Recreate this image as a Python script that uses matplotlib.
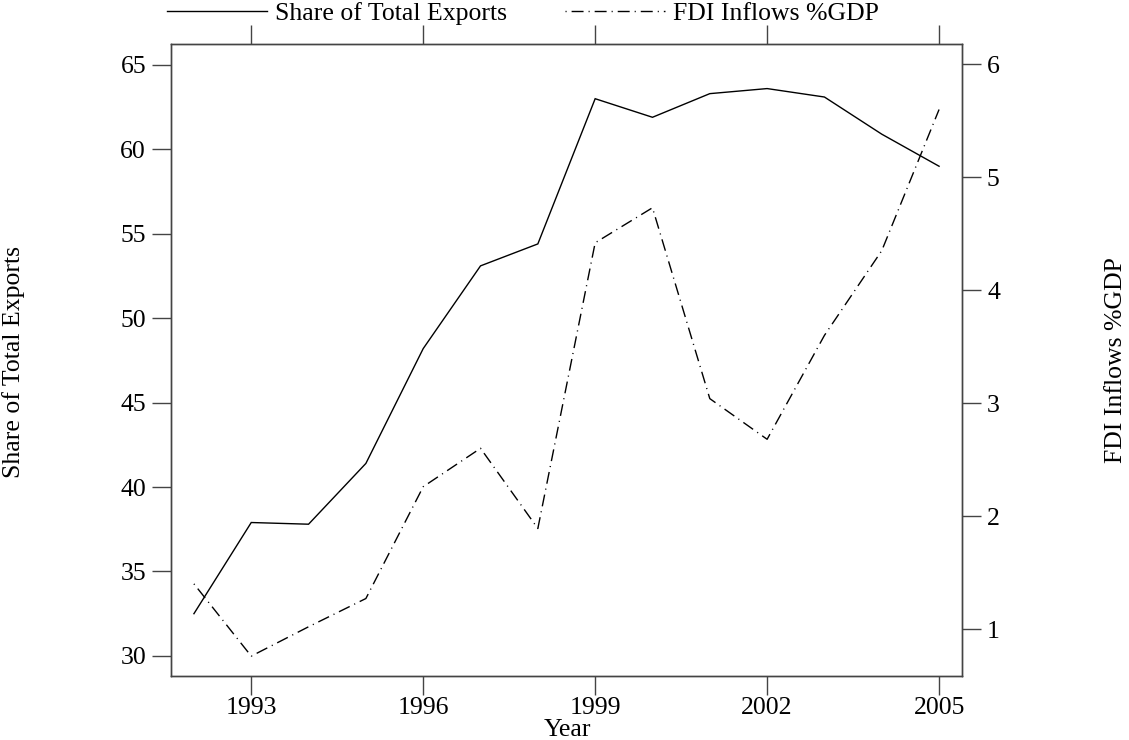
import matplotlib
matplotlib.use("Agg")
import matplotlib.pyplot as plt
from matplotlib.lines import Line2D

# ── Data ──────────────────────────────────────────────────────────────────────
years = [1992, 1993, 1994, 1995, 1996, 1997, 1998,
         1999, 2000, 2001, 2002, 2003, 2004, 2005]
share_exports = [32.5, 37.9, 37.8, 41.4, 48.2, 53.1, 54.4,
                 63.0, 61.9, 63.3, 63.6, 63.1, 60.9, 59.0]
fdi_gdp = [1.40, 0.76, 1.02, 1.27, 2.26, 2.60, 1.89,
           4.42, 4.73, 3.04, 2.68, 3.60, 4.35, 5.60]

x_ticks = [1993, 1996, 1999, 2002, 2005]
left_ticks = [30, 35, 40, 45, 50, 55, 60, 65]
right_ticks = [1, 2, 3, 4, 5, 6]

# ── Style ─────────────────────────────────────────────────────────────────────
plt.rcParams['font.family'] = ['Liberation Serif', 'DejaVu Serif']
FS = 18.5
AX_COL = '#444444'
DOTDASH = (0, (0.8, 3.6, 8.6, 3.6))
TICK = dict(direction='out', length=14, width=1.0, color=AX_COL, labelsize=FS)

fig = plt.figure(figsize=(11.29, 7.40), dpi=100)
ax = fig.add_axes([171 / 1129, 1 - 676 / 740, (962 - 171) / 1129, (676 - 44) / 740])
ax2 = ax.twinx()

ax.plot(years, share_exports, color='black', lw=1.0, solid_joinstyle='miter')
ax2.plot(years, fdi_gdp, color='black', lw=1.0, linestyle=DOTDASH)

ax.set_xlim(1991.6, 2005.4)
ax.set_ylim(28.81, 66.24)
ax2.set_ylim(0.584, 6.18)

ax.set_xticks(x_ticks)
ax.set_xticklabels([str(y) for y in x_ticks])
ax.set_yticks(left_ticks)
ax2.set_yticks(right_ticks)

for a in (ax, ax2):
    for sp in a.spines.values():
        sp.set_color(AX_COL)
        sp.set_linewidth(1.0)
ax.xaxis.set_tick_params(top=True, labeltop=False, pad=1, **TICK)
ax.yaxis.set_tick_params(left=True, right=False, pad=4, **TICK)
ax2.yaxis.set_tick_params(left=False, right=True, labelright=True, pad=4, **TICK)

# Axis titles
fig.text(567 / 1129, 1 - 730 / 740, 'Year', ha='center', va='center', fontsize=FS)
fig.text(14 / 1129, 1 - 362 / 740, 'Share of Total Exports', ha='center',
         va='center', rotation=90, fontsize=FS)
fig.text(1116 / 1129, 1 - 360 / 740, 'FDI Inflows %GDP', ha='center',
         va='center', rotation=90, fontsize=FS)

# Key along the top
handles = [Line2D([], [], color='black', lw=1.0),
           Line2D([], [], color='black', lw=1.0, linestyle=DOTDASH)]
fig.legend(handles, ['Share of Total Exports', 'FDI Inflows %GDP'],
           loc='center', bbox_to_anchor=(523 / 1129, 1 - 14 / 740), ncol=2,
           frameon=False, fontsize=FS, handlelength=3.9, handletextpad=0.3,
           columnspacing=2.25, borderaxespad=0, borderpad=0)

fig.savefig('out.png', dpi=100, facecolor='white')
